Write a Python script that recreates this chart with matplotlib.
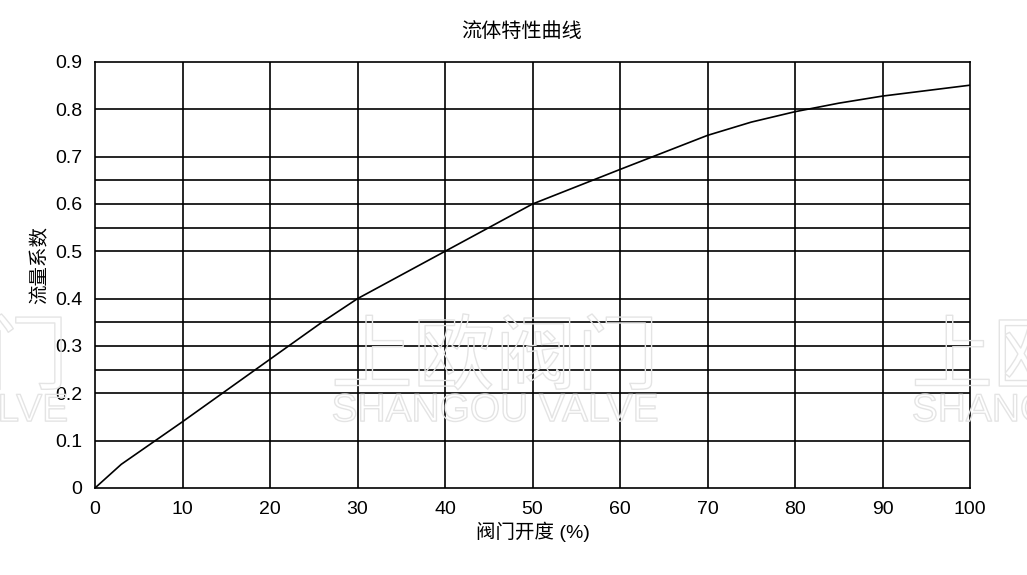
import matplotlib
matplotlib.use("Agg")
import matplotlib.pyplot as plt
import matplotlib.patheffects as pe

plt.rcParams['font.family'] = ['Liberation Sans', 'Noto Sans CJK SC', 'DejaVu Sans']

opening = [0, 3, 10, 20, 26, 30, 40, 50, 60, 70, 75, 80, 85, 90, 100]
flow = [0, 0.05, 0.14, 0.272, 0.351, 0.40, 0.50, 0.60, 0.673, 0.745, 0.773, 0.795, 0.813, 0.828, 0.851]
xticks = [0, 10, 20, 30, 40, 50, 60, 70, 80, 90, 100]
yticks = [0, 0.1, 0.2, 0.3, 0.4, 0.5, 0.6, 0.7, 0.8, 0.9]
ytick_labels = ['0', '0.1', '0.2', '0.3', '0.4', '0.5', '0.6', '0.7', '0.8', '0.9']
extra_hlines = [0.25, 0.35, 0.55, 0.65]

fig = plt.figure(figsize=(10.27, 5.75), dpi=100)
ax = fig.add_axes([95/1027, 87/575, 875/1027, 426/575])

# watermark
for cx in [0.482 - 0.575, 0.482, 0.482 + 0.565]:
    fig.text(cx, 0.375, '上欧阀门', fontsize=59, color='none', ha='center', va='center',
             family=['Noto Sans CJK SC'], zorder=0,
             path_effects=[pe.withStroke(linewidth=1.0, foreground='#e4e4e4')])
    fig.text(cx, 0.285, 'SHANGOU VALVE', fontsize=28, color='none', ha='center', va='center',
             zorder=0, path_effects=[pe.withStroke(linewidth=1.0, foreground='#e4e4e4')])

ax.patch.set_alpha(0)
ax.set_xlim(0, 100)
ax.set_ylim(0, 0.9)
for y in yticks[1:-1] + extra_hlines:
    ax.axhline(y, color='black', lw=1.2, zorder=1)
for x in xticks[1:-1]:
    ax.axvline(x, color='black', lw=1.2, zorder=1)
ax.plot(opening, flow, color='black', lw=1.2, zorder=2)

ax.set_xticks(xticks)
ax.set_yticks(yticks)
ax.set_yticklabels(ytick_labels)
ax.tick_params(length=0, labelsize=14, pad=9)
for s in ax.spines.values():
    s.set_linewidth(1.2)

ax.set_xlabel('阀门开度 (%)', fontsize=14, labelpad=3)
ax.set_ylabel('流量系数', fontsize=14, labelpad=4)
ax.yaxis.set_label_coords(-0.052, 0.523)
ax.set_title('流体特性曲线', fontsize=14.5, pad=18, x=0.487)

fig.savefig('out.png', dpi=100)
